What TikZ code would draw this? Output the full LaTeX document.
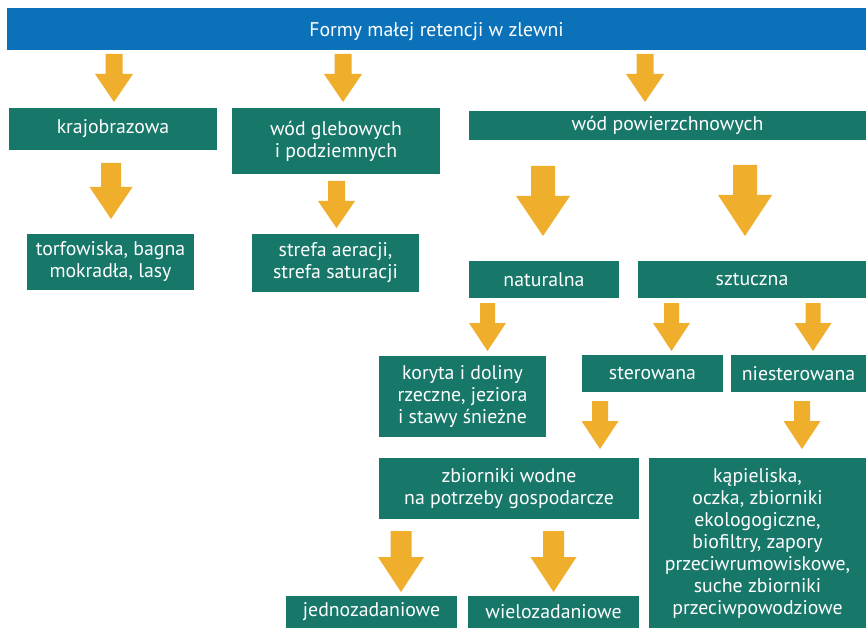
\documentclass[tikz,border=0pt]{standalone}
\usepackage{fontspec}
\setmainfont{PT Sans}
\definecolor{niebieski}{HTML}{0B72BA}
\definecolor{zielony}{HTML}{177769}
\definecolor{pomarancz}{HTML}{EFAE2B}
% strzalka blokowa: x, gora, poczatek grotu, czubek, pol trzonu, pol grotu
\newcommand\strzalka[6]{%
	\fill[pomarancz] (#1-#5,#2)--(#1+#5,#2)--(#1+#5,#3)--(#1+#6,#3)--(#1,#4)--(#1-#6,#3)--(#1-#5,#3)--cycle;}
\begin{document}
\begin{tikzpicture}[x=1pt,y=-1pt,line join=round,
		pole/.style={fill=zielony,text=white,align=center,inner sep=0pt,font=\fontsize{19.8}{22}\selectfont}]
	\fill[white] (0,0) rectangle (866,628);
	\useasboundingbox (0,0) rectangle (866,628);
	% naglowek
	\node[pole,fill=niebieski,minimum width=859pt,minimum height=42pt,text height=16pt,text depth=0pt] (formy) at (436.5,29) {Formy małej retencji w zlewni};
	% pierwszy poziom
	\node[pole,minimum width=208pt,minimum height=42pt] (kraj) at (113,129) {krajobrazowa};
	\node[pole,minimum width=208pt,minimum height=66pt] (gleb) at (336,141) {wód glebowych\\i podziemnych};
	\node[pole,minimum width=397pt,minimum height=29pt] (pow) at (667.5,125.5) {wód powierzchnowych};
	% drugi poziom
	\node[pole,minimum width=167pt,minimum height=56pt] (torf) at (110.5,262) {torfowiska, bagna\\mokradła, lasy};
	\node[pole,minimum width=167pt,minimum height=58pt] (stref) at (335.5,263) {strefa aeracji,\\strefa saturacji};
	\node[pole,minimum width=150pt,minimum height=37pt] (nat) at (544,279.5) {naturalna};
	\node[pole,minimum width=228pt,minimum height=37pt] (szt) at (752,279.5) {sztuczna};
	% trzeci poziom
	\node[pole,minimum width=167pt,minimum height=81pt] (kor) at (462.5,396.5) {koryta i doliny\\rzeczne, jeziora\\i stawy śnieżne};
	\node[pole,minimum width=141pt,minimum height=37pt] (ster) at (652.5,373.5) {sterowana};
	\node[pole,minimum width=135pt,minimum height=37pt] (nies) at (798.5,373.5) {niesterowana};
	\node[pole,minimum width=260pt,minimum height=61pt] (zb) at (509,488.5) {zbiorniki wodne\\na potrzeby gospodarcze};
	\node[pole,minimum width=217pt,minimum height=170pt] (kap) at (757.5,543) {kąpieliska,\\oczka, zbiorniki\\ekologogiczne,\\biofiltry, zapory\\przeciwrumowiskowe,\\suche zbiorniki\\przeciwpowodziowe};
	\node[pole,minimum width=171pt,minimum height=32pt] (jed) at (371.5,612) {jednozadaniowe};
	\node[pole,minimum width=171pt,minimum height=32pt] (wiel) at (553.5,612) {wielozadaniowe};
	% strzalki
	\strzalka{114}{54}{74}{102}{8.5}{19}
	\strzalka{343}{54}{74}{102}{8.5}{19}
	\strzalka{645}{54}{74}{102}{8.5}{19}
	\strzalka{111}{163}{187}{219}{10}{21.5}
	\strzalka{336.5}{181}{201}{228}{8.5}{18.5}
	\strzalka{543}{166}{196}{236}{12}{27}
	\strzalka{745}{165}{195}{236}{12}{27}
	\strzalka{487.5}{303}{323}{351}{7.5}{18.5}
	\strzalka{671.5}{303}{323}{351}{7.5}{18.5}
	\strzalka{813}{303}{323}{351}{7.5}{18.5}
	\strzalka{600}{401}{421}{449}{8}{18.5}
	\strzalka{802}{401}{421}{449}{8}{18.5}
	\strzalka{401}{531}{557}{592}{10.5}{23}
	\strzalka{553.5}{531}{557}{592}{10.5}{23}
\end{tikzpicture}
\end{document}
